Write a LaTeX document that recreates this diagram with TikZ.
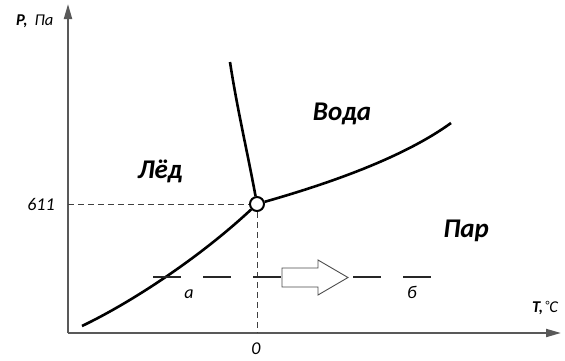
\documentclass[tikz,border=0pt]{standalone}
\usepackage{fontspec}
\setmainfont{Carlito}
\usetikzlibrary{arrows.meta}
\tikzset{
  axis/.style={draw=black!65, line width=2pt, -{Triangle[length=15pt,width=8pt]}},
  curve/.style={line width=2.6pt, black},
  guide/.style={draw=black!75, line width=1pt, dash pattern=on 6pt off 4pt},
  process/.style={draw=black!85, line width=1.6pt, dash pattern=on 28pt off 22pt},
  region/.style={font=\fontsize{27}{30}\selectfont\bfseries\itshape, anchor=base, inner sep=0pt},
  small/.style={font=\fontsize{18}{20}\selectfont\itshape, anchor=base, inner sep=0pt},
  axlabel/.style={font=\fontsize{16.5}{18}\selectfont\itshape, anchor=base, inner sep=0pt},
  triple/.style={circle, draw=black, line width=2pt, fill=white, minimum size=14pt, inner sep=0pt},
  blockarrow/.style={draw=black!70, line width=0.9pt, fill=white}
}
\begin{document}
\begin{tikzpicture}[x=1pt, y=-1pt]
\useasboundingbox (0,0) rectangle (565,360);
% axes
\coordinate (O) at (68,333);
\coordinate (Ytop) at (68,4);
\coordinate (Xend) at (561,333);
\draw[axis] (O) -- (Ytop);
\draw[axis] (O) -- (Xend);
% triple point
\node[triple] (tp) at (257,204) {};
\coordinate (y611) at (68,204);
\coordinate (x0) at (257,333);
\draw[guide] (y611) -- (tp);
\draw[guide] (tp) -- (x0);
% phase curves
\coordinate (s0) at (82,326);
\coordinate (m0) at (230,62);
\coordinate (v1) at (451,123);
\draw[curve] (s0) .. controls (130,303) and (198,259) .. (tp);
\draw[curve] (m0) .. controls (237,108) and (247,150) .. (tp);
\draw[curve] (tp) .. controls (320,186) and (400,160) .. (v1);
% process line a -> b
\coordinate (pa) at (153,277);
\coordinate (pb) at (431,277);
\draw[process] (pa) -- (pb);
\draw[blockarrow] (282,268) -- (318,268) -- (318,260) -- (348,277.5) -- (318,295) -- (318,287) -- (282,287) -- cycle;
% labels
\node[region] (ice) at (160,178) {Лёд};
\node[region] (water) at (342,120) {Вода};
\node[region] (vapor) at (466,237) {Пар};
\node[small] (l611) at (41,210) {611};
\node[small] (l0) at (256,354) {0};
\node[small] (la) at (189,298) {а};
\node[small] (lb) at (412,298) {б};
\node[axlabel, anchor=base west] (lp) at (16,25) {\textbf{P,}\hspace{7pt}Па};
\node[axlabel, anchor=base west] (lt) at (532,312) {\textbf{T,}\hspace{2pt}\raisebox{3pt}{\fontsize{12}{13}\selectfont °}C};
\end{tikzpicture}
\end{document}
